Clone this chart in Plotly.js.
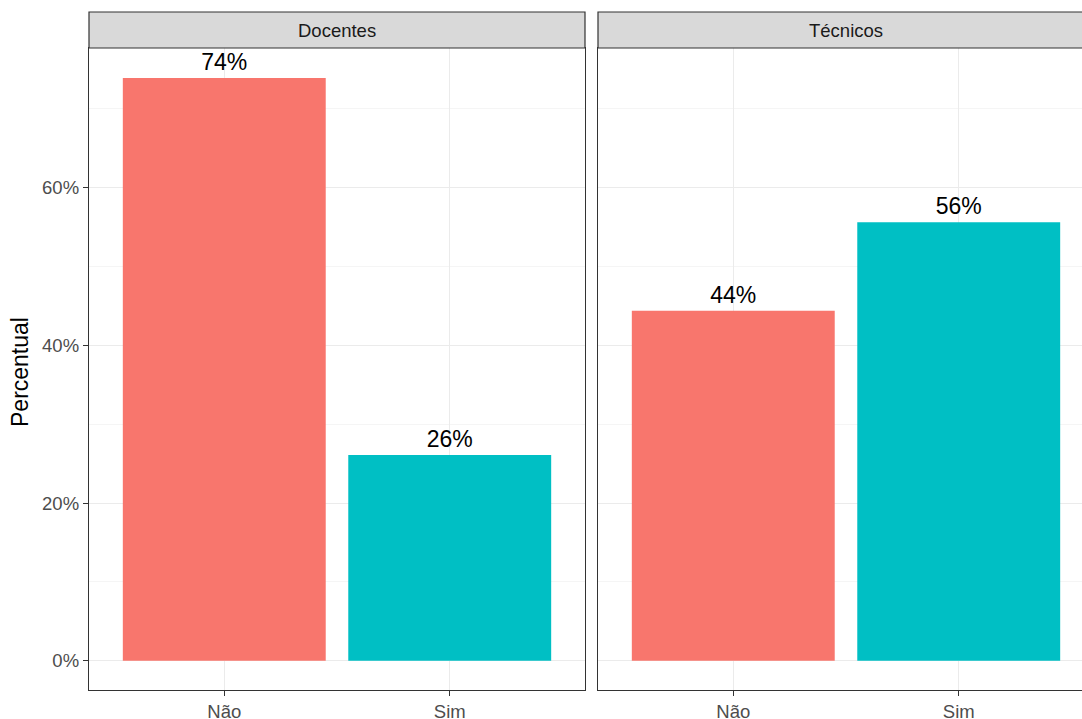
<!DOCTYPE html>
<html>
<head>
<meta charset="utf-8">
<script src="https://cdn.plot.ly/plotly-3.0.1.min.js"></script>
<style>html,body{margin:0;padding:0;background:#fff;}#chart{width:1082px;height:719px;}</style>
</head>
<body>
<div id="chart"></div>
<script>
const categories = ['Não', 'Sim'];
const panels = ['Docentes', 'Técnicos'];
const docentesValues = [73.9, 26.1];
const tecnicosValues = [44.4, 55.6];
const docentesLabels = ['74%', '26%'];
const tecnicosLabels = ['44%', '56%'];
const barColors = ['#F8766D', '#00BFC4'];
const yTicks = [0, 20, 40, 60];
const yTickLabels = ['0%', '20%', '40%', '60%'];

const W = 1082, H = 719;
const mL = 89, mR = 0, mT = 48, mB = 29;
const pw = W - mL - mR, ph = H - mT - mB;
const p1 = [0, (585 - mL) / pw];
const p2 = [(598 - mL) / pw, 1];
const unit = (585 - mL) / 2.2;
const x2max = -0.6 + (W - 598) / unit;
const stripH = 36 / ph;
const FF = 'Liberation Sans, Arial, sans-serif';

const textFont = {family: FF, size: 23, color: '#000'};

const traces = [
  {type: 'bar', x: categories, y: docentesValues, text: docentesLabels, textposition: 'outside',
   textfont: textFont, cliponaxis: false, marker: {color: barColors}, xaxis: 'x', yaxis: 'y', hoverinfo: 'none'},
  {type: 'bar', x: categories, y: tecnicosValues, text: tecnicosLabels, textposition: 'outside',
   textfont: textFont, cliponaxis: false, marker: {color: barColors}, xaxis: 'x2', yaxis: 'y2', hoverinfo: 'none'}
];

const gridC = '#EBEBEB', minorC = '#F5F5F5', lineC = '#333333';
const tickFont = {family: FF, size: 18.5, color: '#4D4D4D'};
const yRange = [-3.7, 77.7];

const xBase = {type: 'category', showgrid: true, gridcolor: gridC, gridwidth: 1, zeroline: false,
  ticks: 'outside', ticklen: 5, tickcolor: lineC, tickwidth: 1, tickfont: tickFont,
  showline: true, linecolor: lineC, linewidth: 1.2};
const yBase = {range: yRange, tickvals: yTicks, ticktext: yTickLabels, showgrid: true, gridcolor: gridC,
  gridwidth: 1, zeroline: false, ticks: 'outside', ticklen: 5, tickcolor: lineC, tickwidth: 1,
  tickfont: tickFont, showline: true, linecolor: lineC, linewidth: 1.2,
  minor: {tickvals: [10, 30, 50, 70], showgrid: true, gridcolor: minorC, gridwidth: 1}};

const layout = {
  width: W, height: H,
  margin: {l: mL, r: mR, t: mT, b: mB, pad: 0},
  paper_bgcolor: '#fff', plot_bgcolor: '#fff',
  showlegend: false, bargap: 0.1,
  xaxis: Object.assign({}, xBase, {domain: p1, range: [-0.6, 1.6], anchor: 'y', mirror: true}),
  xaxis2: Object.assign({}, xBase, {domain: p2, range: [-0.6, x2max], anchor: 'y2', mirror: true}),
  yaxis: Object.assign({}, yBase, {domain: [0, 1], anchor: 'x', mirror: true}),
  yaxis2: Object.assign({}, yBase, {domain: [0, 1], anchor: 'x2', showticklabels: false, ticks: '', mirror: false}),
  shapes: [
    {type: 'rect', xref: 'paper', yref: 'paper', x0: p1[0], x1: p1[1], y0: 1, y1: 1 + stripH,
     fillcolor: '#D9D9D9', line: {color: lineC, width: 1.2}, layer: 'above'},
    {type: 'rect', xref: 'paper', yref: 'paper', x0: p2[0], x1: p2[1] + 0.01, y0: 1, y1: 1 + stripH,
     fillcolor: '#D9D9D9', line: {color: lineC, width: 1.2}, layer: 'above'}
  ],
  annotations: [
    {text: panels[0], xref: 'paper', yref: 'paper', x: (p1[0] + p1[1]) / 2, y: 1 + stripH / 2,
     showarrow: false, xanchor: 'center', yanchor: 'middle',
     font: {family: FF, size: 18.5, color: '#1A1A1A'}},
    {text: panels[1], xref: 'paper', yref: 'paper', x: (p2[0] + (598 - mL + 2.2 * unit) / pw) / 2, y: 1 + stripH / 2,
     showarrow: false, xanchor: 'center', yanchor: 'middle',
     font: {family: FF, size: 18.5, color: '#1A1A1A'}},
    {text: 'Percentual', xref: 'paper', yref: 'paper', x: (20 - mL) / pw, y: 0.5 + (0.5 * ph - (372 - mT)) / ph,
     showarrow: false, textangle: -90, xanchor: 'center', yanchor: 'middle',
     font: {family: FF, size: 23, color: '#000'}}
  ]
};

Plotly.newPlot('chart', traces, layout, {displayModeBar: false, staticPlot: true});
</script>
</body>
</html>
